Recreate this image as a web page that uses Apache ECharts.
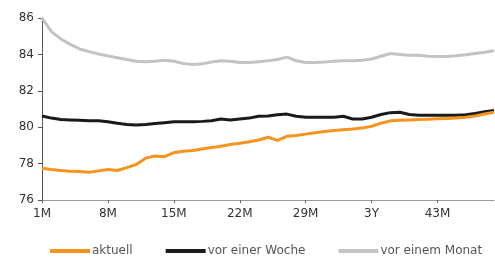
<!DOCTYPE html>
<html><head><meta charset="utf-8">
<script src="https://cdn.jsdelivr.net/npm/echarts@6/dist/echarts.min.js"></script>
<style>html,body{margin:0;padding:0;background:#fff}#c{width:495px;height:264px}</style>
</head><body><div id="c"></div>
<script>
const months = [];
for (let n = 1; n <= 49; n++) months.push(n === 36 ? '3Y' : n + 'M');
const seriesNames = ['aktuell', 'vor einer Woche', 'vor einem Monat'];
const aktuell = [77.75,77.68,77.62,77.58,77.57,77.52,77.6,77.68,77.62,77.78,77.95,78.3,78.42,78.38,78.6,78.68,78.72,78.8,78.88,78.95,79.05,79.12,79.2,79.3,79.45,79.28,79.5,79.55,79.62,79.7,79.76,79.82,79.86,79.9,79.95,80.05,80.22,80.35,80.38,80.4,80.42,80.44,80.46,80.48,80.5,80.55,80.62,80.72,80.82];
const vorWoche = [80.62,80.5,80.42,80.4,80.38,80.36,80.35,80.3,80.22,80.15,80.12,80.15,80.2,80.25,80.3,80.3,80.3,80.32,80.35,80.45,80.4,80.45,80.5,80.6,80.62,80.68,80.72,80.6,80.55,80.55,80.55,80.55,80.6,80.45,80.45,80.55,80.7,80.8,80.82,80.7,80.66,80.66,80.66,80.66,80.66,80.68,80.75,80.85,80.92];
const vorMonat = [86.0,85.25,84.85,84.55,84.3,84.15,84.02,83.92,83.82,83.72,83.62,83.6,83.62,83.68,83.62,83.5,83.45,83.48,83.58,83.65,83.62,83.55,83.55,83.6,83.65,83.72,83.85,83.65,83.55,83.55,83.58,83.62,83.65,83.65,83.68,83.75,83.9,84.05,84.0,83.95,83.95,83.9,83.88,83.88,83.92,83.98,84.05,84.12,84.2];
const colors = ['#f7941d', '#1a1a1a', '#c3c3c3'];
const font = 'DejaVu Sans, Verdana, sans-serif';
const chart = echarts.init(document.getElementById('c'));
const data = [aktuell, vorWoche, vorMonat];
chart.setOption({
  animation: false,
  grid: {left: 42, right: 1, top: 18, bottom: 64, containLabel: false},
  legend: {
    left: 45, bottom: 2, itemWidth: 40, itemHeight: 4, itemGap: 33, icon: 'rect',
    textStyle: {fontFamily: font, fontSize: 12, color: '#555', padding: [0,0,0,-3]},
    data: seriesNames
  },
  xAxis: {
    type: 'category', data: months, boundaryGap: false,
    axisLine: {lineStyle: {color: '#999', width: 1}},
    axisTick: {interval: 6, length: 3, lineStyle: {color: '#666'}},
    axisLabel: {interval: 6, fontFamily: font, fontSize: 12, color: '#333', margin: 8}
  },
  yAxis: {
    type: 'value', min: 76, max: 86, interval: 2,
    splitLine: {show: false},
    axisLine: {show: true, lineStyle: {color: '#555', width: 1}},
    axisTick: {show: true, length: 4, lineStyle: {color: '#555'}},
    axisLabel: {fontFamily: font, fontSize: 12, color: '#333', margin: 8}
  },
  series: seriesNames.map((name, i) => ({
    name, type: 'line', data: data[i], showSymbol: false, symbol: 'none',
    lineStyle: {color: colors[i], width: 3}, itemStyle: {color: colors[i]},
    z: 3 - i
  }))
});
</script></body></html>
